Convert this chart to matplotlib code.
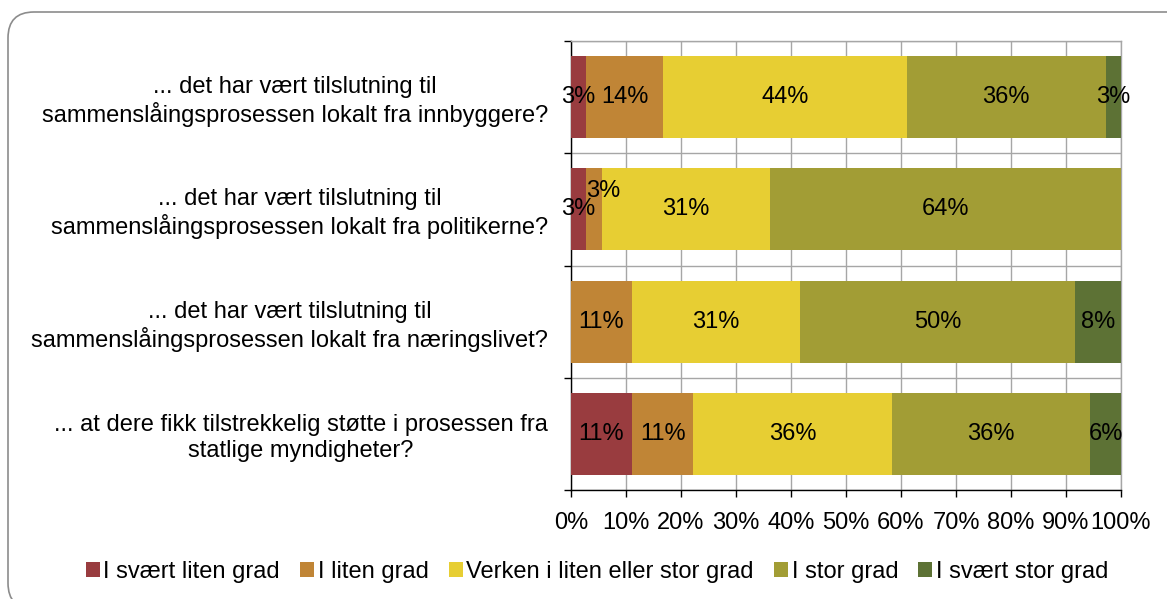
import matplotlib.pyplot as plt
import matplotlib.transforms as mtransforms
from matplotlib.patches import FancyBboxPatch

plt.rcParams['font.family'] = ['Liberation Sans', 'DejaVu Sans']

# Questions (top to bottom)
categories = [
    "... det har vært tilslutning til\nsammenslåingsprosessen lokalt fra innbyggere?",
    "... det har vært tilslutning til\nsammenslåingsprosessen lokalt fra politikerne?",
    "... det har vært tilslutning til\nsammenslåingsprosessen lokalt fra næringslivet?",
    "... at dere fikk tilstrekkelig støtte i prosessen fra\nstatlige myndigheter?",
]

series_names = ["I svært liten grad", "I liten grad", "Verken i liten eller stor grad",
                "I stor grad", "I svært stor grad"]
colors = ['#993C3F', '#C08536', '#E7CE33', '#A29D35', '#5D7235']

# percent per series, one value per question
svaert_liten = [2.8, 2.8, 0.0, 11.1]
liten = [13.9, 2.8, 11.1, 11.1]
verken = [44.4, 30.6, 30.6, 36.1]
stor = [36.1, 63.9, 50.0, 36.1]
svaert_stor = [2.8, 0.0, 8.3, 5.6]
series = [svaert_liten, liten, verken, stor, svaert_stor]

FS = 17
fig = plt.figure(figsize=(11.67, 5.99), dpi=100)
ax = fig.add_axes([571 / 1167, 1 - 490 / 599, 550 / 1167, 449 / 599])

y = list(range(len(categories)))
left = [0.0] * len(categories)
bars = []
for name, vals, col in zip(series_names, series, colors):
    b = ax.barh(y, vals, left=left, height=0.73, color=col, label=name, zorder=3)
    bars.append(b)
    for i, v in enumerate(vals):
        if v <= 0:
            continue
        cx = left[i] + v / 2
        off = (0, 0)
        # Excel nudged this small label to avoid overlap
        if name == "I liten grad" and i == 1:
            off = (6.5, 13)
        ax.annotate(f"{round(v)}%", (cx, i), xytext=off, textcoords='offset points',
                    ha='center', va='center', fontsize=FS, color='black', zorder=4)
    left = [l + v for l, v in zip(left, vals)]

ax.set_xlim(0, 100)
ax.set_ylim(len(categories) - 0.5, -0.5)

ax.set_xticks(range(0, 101, 10))
ax.set_xticklabels([f"{t}%" for t in range(0, 101, 10)], fontsize=FS)
ax.tick_params(axis='x', direction='out', length=5, width=1, pad=11, color='black')

ax.set_yticks(y)
ax.set_yticklabels(categories, fontsize=FS)
for lbl in ax.get_yticklabels():
    lbl.set_multialignment('center')
ax.tick_params(axis='y', which='major', length=0, pad=16.5)
ax.set_yticks([i - 0.5 for i in range(len(categories) + 1)], minor=True)
ax.tick_params(axis='y', which='minor', direction='out', length=5, width=1, color='black')

ax.grid(True, axis='x', color='#A6A6A6', lw=1, zorder=0)
ax.grid(True, axis='y', which='minor', color='#A6A6A6', lw=1, zorder=0)
ax.grid(False, axis='y', which='major')
ax.set_axisbelow(True)

for s in ['top', 'right']:
    ax.spines[s].set_color('#A6A6A6')
    ax.spines[s].set_linewidth(1)
for s in ['left', 'bottom']:
    ax.spines[s].set_color('black')
    ax.spines[s].set_linewidth(1)

fig.legend(handles=bars, labels=series_names, loc='center', ncol=5,
           bbox_to_anchor=(597 / 1167, 1 - 572 / 599), frameon=False, fontsize=FS,
           handlelength=0.6, handleheight=0.6, handletextpad=0.15, columnspacing=0.85,
           borderpad=0)

# rounded outer frame (pixel coordinates)
frame = FancyBboxPatch((8, -10), 1200, 597, boxstyle="round,pad=0,rounding_size=26",
                       transform=mtransforms.IdentityTransform(), fill=False,
                       edgecolor='#8C8C8C', lw=1.2)
fig.patches.append(frame)

fig.savefig("out.png", dpi=100)
